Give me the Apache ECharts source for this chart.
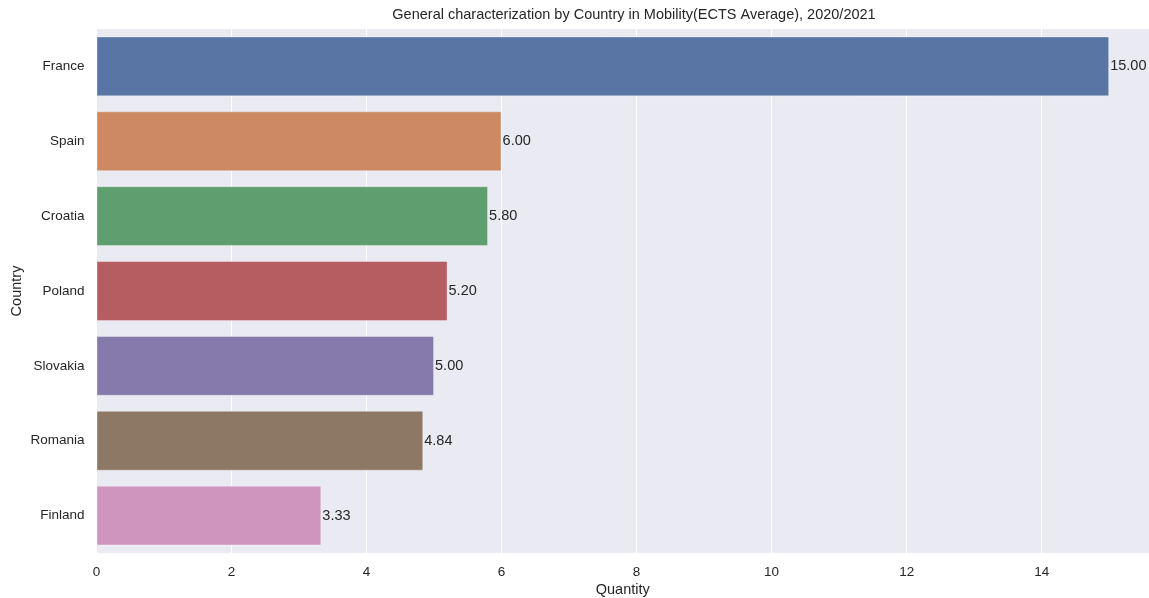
<!DOCTYPE html>
<html>
<head>
<meta charset="utf-8">
<script src="https://cdn.jsdelivr.net/npm/echarts@6/dist/echarts.min.js"></script>
<style>html,body{margin:0;padding:0;background:#fff;}#c{width:1149px;height:598px;}</style>
</head>
<body>
<div id="c"></div>
<script>
const countries = ["France", "Spain", "Croatia", "Poland", "Slovakia", "Romania", "Finland"];
const values = [15.00, 6.00, 5.80, 5.20, 5.00, 4.84, 3.33];
const colors = ["#5875a4", "#cc8963", "#5f9e6e", "#b55d60", "#857aab", "#8d7866", "#d095bf"];
const xTicks = [0, 2, 4, 6, 8, 10, 12, 14];
const title = "General characterization by Country in Mobility(ECTS Average), 2020/2021";

const chart = echarts.init(document.getElementById('c'));
const font = "Liberation Sans, Arial, sans-serif";
chart.setOption({
  animation: false,
  title: {
    text: title, left: 629, top: 2, textAlign: 'center',
    textStyle: {fontFamily: font, fontSize: 14.5, fontWeight: 'normal', color: '#262626'}
  },
  grid: {left: 96.5, right: 0, top: 29, bottom: 45, containLabel: false,
         outerBoundsMode: 'none',
         show: true, backgroundColor: '#eaeaf2', borderWidth: 0},
  xAxis: {
    type: 'value', min: 0, max: 15.59, interval: 2,
    name: 'Quantity', nameLocation: 'middle', nameGap: 29,
    nameMoveOverlap: false,
    nameTextStyle: {fontFamily: font, fontSize: 14.5, color: '#262626'},
    axisLine: {show: false}, axisTick: {show: false},
    axisLabel: {fontFamily: font, fontSize: 13.5, color: '#262626', margin: 12,
      showMaxLabel: false,
      formatter: v => xTicks.includes(v) ? String(v) : ''},
    splitLine: {show: true, lineStyle: {color: '#ffffff', width: 1}}
  },
  yAxis: {
    type: 'category', data: countries, inverse: true,
    name: 'Country', nameLocation: 'middle', nameGap: 72, nameRotate: 90,
    nameMoveOverlap: false,
    nameTextStyle: {fontFamily: font, fontSize: 14.5, color: '#262626'},
    axisLine: {show: false}, axisTick: {show: false},
    axisLabel: {fontFamily: font, fontSize: 13.5, color: '#262626', margin: 12},
    splitLine: {show: false}
  },
  series: [{
    type: 'bar',
    data: values.map((v, i) => ({value: v, itemStyle: {color: colors[i]}})),
    barCategoryGap: '20%',
    itemStyle: {borderColor: 'rgba(255,255,255,0.35)', borderWidth: 1},
    label: {show: true, position: 'right', distance: 1,
      fontFamily: font, fontSize: 14.5, color: '#262626',
      formatter: p => p.value.toFixed(2)}
  }]
});
</script>
</body>
</html>
